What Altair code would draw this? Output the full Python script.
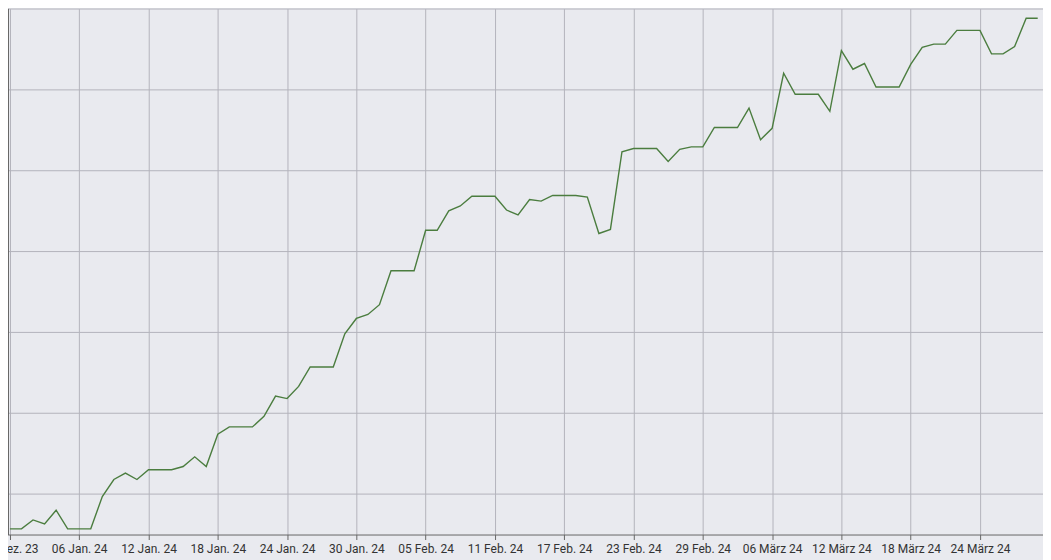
import altair as alt
import pandas as pd

start = "2023-12-31"
values = [
    1057, 1057, 1068, 1063, 1080, 1057, 1057, 1057, 1097, 1118,
    1126, 1118, 1130, 1130, 1130, 1134, 1146, 1134, 1174, 1183,
    1183, 1183, 1196, 1221, 1218, 1233, 1257, 1257, 1257, 1298,
    1317, 1322, 1334, 1376, 1376, 1376, 1426, 1426, 1450, 1456,
    1468, 1468, 1468, 1451, 1445, 1464, 1462, 1469, 1469, 1469,
    1467, 1422, 1427, 1523, 1527, 1527, 1527, 1511, 1526, 1529,
    1529, 1553, 1553, 1553, 1577, 1538, 1552, 1620, 1594, 1594,
    1594, 1573, 1648, 1625, 1632, 1603, 1603, 1603, 1631, 1652,
    1656, 1656, 1673, 1673, 1673, 1644, 1644, 1653, 1688, 1688,
]
dates = pd.date_range(start, periods=len(values), freq="D").strftime("%Y-%m-%d").tolist()
tick_dates = pd.date_range(start, "2024-03-29", freq="6D")
month_names = ["Jan.", "Feb.", "März", "Apr.", "Mai", "Juni", "Juli", "Aug.", "Sep.", "Okt.", "Nov.", "Dez."]

df = pd.DataFrame({"date": dates, "value": values})

tick_values = [alt.DateTime(year=d.year, month=d.month, date=d.day, utc=True) for d in tick_dates]
dom_start = alt.DateTime(year=2023, month=12, date=30, hours=20, utc=True)
dom_end = alt.DateTime(year=2024, month=3, date=29, hours=11, utc=True)

months_js = "[" + ",".join("'" + m + "'" for m in month_names) + "]"
label_expr = ("utcFormat(datum.value, '%d') + ' ' + " + months_js +
              "[utcmonth(datum.value)] + ' ' + utcFormat(datum.value, '%y')")

chart = alt.Chart(df).mark_line(color="#4B7D3F", strokeWidth=1.4).encode(
    x=alt.X("date:T",
            scale=alt.Scale(type="utc", domain=[dom_start, dom_end]),
            axis=alt.Axis(values=tick_values, labelExpr=label_expr, title=None,
                          labelFont="Roboto", labelFontSize=12, labelColor="#333333",
                          labelPadding=4, tickSize=5, tickColor="#666666",
                          domainColor="#666666", gridColor="#B4B4BC", gridWidth=1,
                          labelOverlap=False, labelFlush=False)),
    y=alt.Y("value:Q",
            scale=alt.Scale(domain=[1050, 1700], nice=False, zero=False),
            axis=alt.Axis(values=list(range(1050, 1701, 50)), labels=False, title=None,
                          tickSize=4, tickColor="#666666", domainColor="#666666",
                          gridColor="#B4B4BC", gridWidth=1,
                          gridOpacity=alt.ExprRef(expr="datum.value % 100 == 0 ? 1 : 0"))),
).properties(
    width=1037,
    height=527,
    background="#E9EAEF",
    padding={"left": 0, "top": 0, "right": 0, "bottom": 26},
    autosize=alt.AutoSizeParams(type="none"),
).configure_view(
    stroke=None,
    fill="#E9EAEF",
)

chart.save("out.html", embed_options={"renderer": "svg", "actions": False})
